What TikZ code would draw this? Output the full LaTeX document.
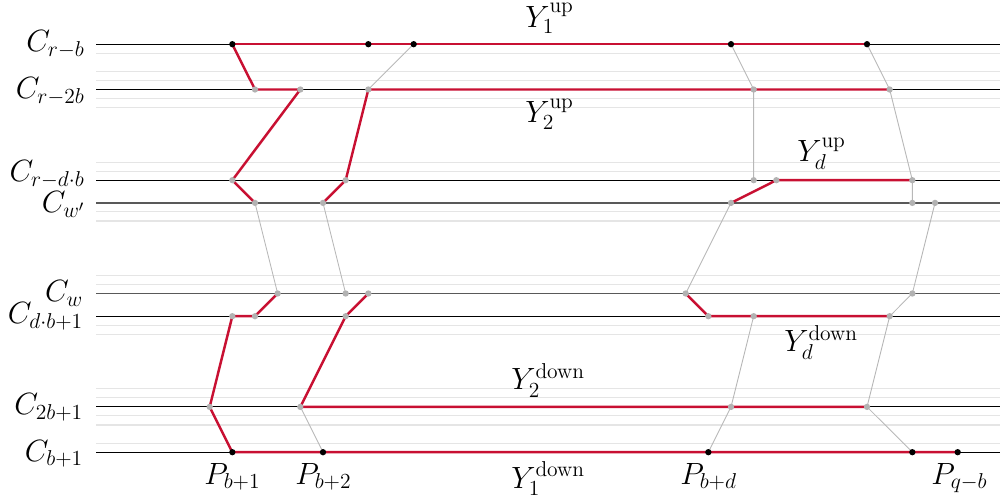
\documentclass[tikz,border=0pt]{standalone}
\usepackage{fix-cm}
\definecolor{myred}{RGB}{200,16,50}
\def\yA{44.2}
\def\yB{89.5}
\def\yD{180.2}
\def\yWp{202.9}
\def\yW{293.5}
\def\yE{316.2}
\def\yF{406.9}
\def\yG{452.2}
\begin{document}
\begin{tikzpicture}[x=0.02cm,y=-0.02cm,
  mainline/.style={black,line width=0.6pt},
  wline/.style={black!65,line width=0.9pt},
  lightline/.style={black!10,line width=0.6pt},
  redpath/.style={myred,line width=1.4pt,line join=round},
  link/.style={black!28,line width=0.5pt},
  bdot/.style={fill=black},
  gdot/.style={fill=black!30},
  lab/.style={font=\fontsize{17.5}{21}\selectfont, inner sep=0pt}]
\useasboundingbox (0,0) rectangle (1000,499);

% light helper lines
\foreach \m in {1,3,4,6,7,13,14,18.5,19.5,25.5,26.5,31,32,38,39,41,42,44}
  \draw[lightline] (96,{44.2+9.067*\m}) -- (1000,{44.2+9.067*\m});

% row end coordinates
\foreach \r in {A,B,D,Wp,W,E,F,G}{
  \coordinate (\r s) at (96,\csname y\r\endcsname);
  \coordinate (\r e) at (1000,\csname y\r\endcsname);
}
\foreach \r in {A,B,D,E,F,G} \draw[mainline] (\r s) -- (\r e);
\foreach \r in {Wp,W} \draw[wline] (\r s) -- (\r e);

% labels
\node[lab,anchor=base east] (lA) at (85,51.7) {$C_{r-b}$};
\node[lab,anchor=base east] (lB) at (85,99) {$C_{r-2b}$};
\node[lab,anchor=base east] (lD) at (85,181.5) {$C_{r-d\cdot b}$};
\node[lab,anchor=base east] (lWp) at (85.5,213) {$C_{w'}$};
\node[lab,anchor=base east] (lW) at (83.5,302) {$C_w$};
\node[lab,anchor=base east] (lE) at (83.5,324) {$C_{d\cdot b+1}$};
\node[lab,anchor=base east] (lF) at (83.5,415) {$C_{2b+1}$};
\node[lab,anchor=base east] (lG) at (83.5,461) {$C_{b+1}$};

\node[lab,anchor=base west] (y1u) at (525,27.5) {$Y_1^{\mathrm{up}}$};
\node[lab,anchor=base west] (y2u) at (525,123) {$Y_2^{\mathrm{up}}$};
\node[lab,anchor=base west] (ydu) at (797,162) {$Y_d^{\mathrm{up}}$};
\node[lab,anchor=base west] (y2d) at (511,390) {$Y_2^{\mathrm{down}}$};
\node[lab,anchor=base west] (y1d) at (511,488) {$Y_1^{\mathrm{down}}$};
\node[lab,anchor=base west] (ydd) at (784,352) {$Y_d^{\mathrm{down}}$};

\node[lab,anchor=base west] (p1) at (204,484) {$P_{b+1}$};
\node[lab,anchor=base west] (p2) at (295,484) {$P_{b+2}$};
\node[lab,anchor=base west] (pd) at (680,484) {$P_{b+d}$};
\node[lab,anchor=base west] (pq) at (931,484) {$P_{q-b}$};

% point coordinates
\foreach \k in {0,6,8,22,28} \coordinate (A\k) at ({232.33+22.667*\k},\yA);
\foreach \k in {1,3,6,23,29} \coordinate (B\k) at ({232.33+22.667*\k},\yB);
\foreach \k in {0,5,23,24,30} \coordinate (D\k) at ({232.33+22.667*\k},\yD);
\foreach \k in {1,4,22,30,31} \coordinate (Wp\k) at ({232.33+22.667*\k},\yWp);
\foreach \k in {2,5,6,20,30} \coordinate (W\k) at ({232.33+22.667*\k},\yW);
\foreach \k in {0,1,5,21,23,29} \coordinate (E\k) at ({232.33+22.667*\k},\yE);
\foreach \k in {3,22,28} \coordinate (F\k) at ({232.33+22.667*\k},\yF);
\coordinate (Fm1) at (209.67,\yF);
\foreach \k in {0,4,21,30,32} \coordinate (G\k) at ({232.33+22.667*\k},\yG);

% thin gray links
\draw[link] (A8) -- (B6);
\draw[link] (A22) -- (B23) -- (D23);
\draw[link] (A28) -- (B29) -- (D30) -- (Wp30);
\draw[link] (Wp1) -- (W2);
\draw[link] (Wp4) -- (W5);
\draw[link] (Wp22) -- (W20);
\draw[link] (Wp31) -- (W30) -- (E29) -- (F28) -- (G30);
\draw[link] (E23) -- (F22) -- (G21);
\draw[link] (F3) -- (G4);

% red paths
\draw[redpath] (A0) -- (A28);
\draw[redpath] (A0) -- (B1) -- (B3) -- (D0) -- (Wp1);
\draw[redpath] (B29) -- (B6) -- (D5) -- (Wp4);
\draw[redpath] (Wp22) -- (D24) -- (D30);
\draw[redpath] (W2) -- (E1) -- (E0) -- (Fm1) -- (G0) -- (G32);
\draw[redpath] (W6) -- (E5) -- (F3) -- (F28);
\draw[redpath] (W20) -- (E21) -- (E29);

% dots
\foreach \p in {A0,A6,A8,A22,A28,G0,G4,G21,G30,G32}
  \fill[bdot] (\p) circle[radius=1.8pt];
\foreach \p in {B1,B3,B6,B23,B29,D0,D5,D23,D24,D30,Wp1,Wp4,Wp22,Wp30,Wp31,W2,W5,W6,W20,W30,E0,E1,E5,E21,E23,E29,Fm1,F3,F22,F28}
  \fill[gdot] (\p) circle[radius=1.8pt];
\end{tikzpicture}
\end{document}
